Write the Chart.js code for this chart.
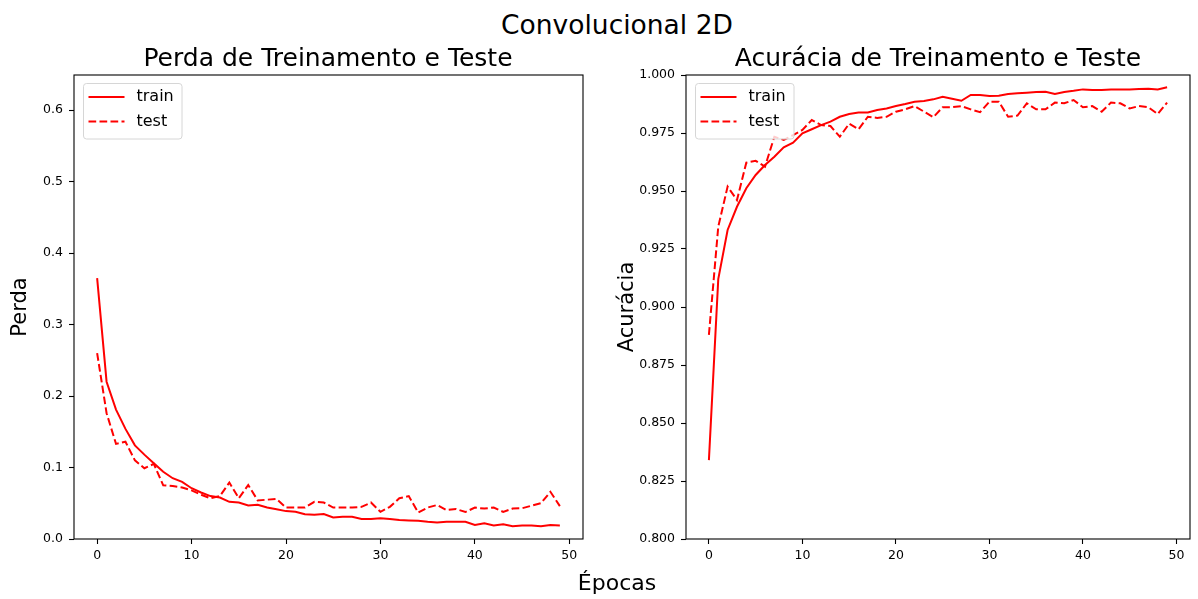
<!DOCTYPE html>
<html>
<head>
<meta charset="utf-8">
<script src="https://cdn.jsdelivr.net/npm/chart.js@4.4.1/dist/chart.umd.min.js"></script>
<style>
  body { margin: 0; background: #fff; }
  #wrap { position: relative; width: 1198px; height: 599px; overflow: hidden; font-family: 'DejaVu Sans', sans-serif; }
  #lossBox { position: absolute; left: 0; top: 0; width: 600px; height: 599px; }
  #accBox { position: absolute; left: 600px; top: 0; width: 598px; height: 599px; }
  .txt { position: absolute; color: #000; white-space: nowrap; line-height: 1; transform: translateX(-50%); }
  #suptitle { left: 617px; top: 12px; font-size: 26.5px; }
  .subtitle { top: 45px; font-size: 25px; }
  #lossTitle { left: 328px; }
  #accTitle { left: 938px; }
  #xlabel { left: 617px; top: 572px; font-size: 22px; }
</style>
</head>
<body>
<div id="wrap">
  <div id="suptitle" class="txt">Convolucional 2D</div>
  <div id="lossBox"><canvas id="lossChart"></canvas></div>
  <div id="accBox"><canvas id="accChart"></canvas></div>
  <div id="lossTitle" class="txt subtitle">Perda de Treinamento e Teste</div>
  <div id="accTitle" class="txt subtitle">Acurácia de Treinamento e Teste</div>
  <div id="xlabel" class="txt">Épocas</div>
</div>
<script>
// epochs 0..49
const epochs = Array.from({ length: 50 }, (_, i) => i);

const lossTrain = [0.365, 0.220, 0.181, 0.154, 0.131, 0.118, 0.106, 0.094, 0.085, 0.080,
                   0.071, 0.065, 0.060, 0.058, 0.052, 0.051, 0.047, 0.048, 0.044, 0.0415,
                   0.039, 0.038, 0.0345, 0.034, 0.035, 0.030, 0.031, 0.031, 0.028, 0.028,
                   0.029, 0.028, 0.0266, 0.026, 0.0255, 0.024, 0.023, 0.024, 0.024, 0.024,
                   0.0196, 0.022, 0.019, 0.0205, 0.018, 0.019, 0.019, 0.018, 0.0195, 0.019];
const lossTest = [0.260, 0.176, 0.133, 0.136, 0.110, 0.099, 0.105, 0.075, 0.074, 0.072,
                  0.068, 0.062, 0.057, 0.060, 0.079, 0.057, 0.0755, 0.054, 0.055, 0.056,
                  0.044, 0.044, 0.044, 0.052, 0.051, 0.044, 0.044, 0.044, 0.045, 0.051,
                  0.038, 0.045, 0.057, 0.060, 0.037, 0.044, 0.0475, 0.0405, 0.042, 0.0377,
                  0.044, 0.0425, 0.044, 0.038, 0.0425, 0.043, 0.0466, 0.050, 0.066, 0.046];
const accTrain = [0.834, 0.912, 0.9332, 0.9432, 0.9512, 0.9569, 0.9612, 0.9648, 0.9688, 0.9708,
                  0.9749, 0.9766, 0.9784, 0.9799, 0.9820, 0.9832, 0.9838, 0.9838, 0.9849, 0.9856,
                  0.9866, 0.9875, 0.9885, 0.9888, 0.9895, 0.9906, 0.9898, 0.9889, 0.9914, 0.9914,
                  0.9910, 0.9911, 0.9918, 0.9921, 0.9924, 0.9927, 0.9928, 0.9918, 0.9927, 0.9932,
                  0.9938, 0.9935, 0.9935, 0.9937, 0.9937, 0.9938, 0.9940, 0.9941, 0.9938, 0.9947];
const accTest = [0.888, 0.9346, 0.9519, 0.9461, 0.9622, 0.9630, 0.9605, 0.9734, 0.9720, 0.9741,
                 0.9763, 0.9806, 0.9784, 0.9780, 0.9734, 0.9790, 0.9766, 0.9820, 0.9815, 0.9820,
                 0.9842, 0.9852, 0.9866, 0.9842, 0.9818, 0.9861, 0.9861, 0.9866, 0.9852, 0.9840,
                 0.9885, 0.9885, 0.9820, 0.9825, 0.9878, 0.9852, 0.9852, 0.9881, 0.9878, 0.9892,
                 0.9861, 0.9866, 0.9842, 0.9881, 0.9878, 0.9856, 0.9866, 0.9861, 0.9832, 0.9881];

const xTicks = [0, 10, 20, 30, 40, 50];
const lossTicks = [0.0, 0.1, 0.2, 0.3, 0.4, 0.5, 0.6];
const accTicks = [0.800, 0.825, 0.850, 0.875, 0.900, 0.925, 0.950, 0.975, 1.000];

const seriesNames = ['train', 'test'];
const red = '#ff0000';
const dash = [7.7, 3.3];

Chart.defaults.font.family = "'DejaVu Sans', sans-serif";
Chart.defaults.color = '#000';

function points(values) {
    return values.map((v, i) => ({ x: epochs[i], y: v }));
}

// frame on all four sides + matplotlib-like legend in upper left
const frameLegend = {
    id: 'frameLegend',
    afterDraw(chart) {
        const ctx = chart.ctx;
        const a = chart.chartArea;
        ctx.save();
        ctx.strokeStyle = '#000';
        ctx.lineWidth = 1.1;
        ctx.setLineDash([]);
        ctx.strokeRect(a.left, a.top, a.right - a.left, a.bottom - a.top);

        const x = a.left + 9.5, y = a.top + 8.5, w = 98.5, h = 55.5;
        ctx.beginPath();
        ctx.roundRect(x, y, w, h, 3);
        ctx.fillStyle = 'rgba(255,255,255,0.8)';
        ctx.fill();
        ctx.strokeStyle = '#d6d6d6';
        ctx.lineWidth = 1;
        ctx.stroke();

        ctx.font = "16px 'DejaVu Sans'";
        ctx.textBaseline = 'middle';
        chart.data.datasets.forEach((ds, i) => {
            const ly = y + 13.5 + i * 24.5;
            ctx.beginPath();
            ctx.setLineDash(ds.borderDash || []);
            ctx.strokeStyle = ds.borderColor;
            ctx.lineWidth = 2;
            ctx.moveTo(x + 5, ly);
            ctx.lineTo(x + 41, ly);
            ctx.stroke();
            ctx.setLineDash([]);
            ctx.fillStyle = '#000';
            ctx.fillText(ds.label, x + 53, ly);
        });
        ctx.restore();
    }
};

function makeChart(id, train, test, opts) {
    return new Chart(document.getElementById(id), {
        type: 'line',
        data: {
            datasets: [
                { label: seriesNames[0], data: points(train), borderColor: red, borderWidth: 2,
                  pointRadius: 0, tension: 0, fill: false },
                { label: seriesNames[1], data: points(test), borderColor: red, borderWidth: 2,
                  borderDash: dash, pointRadius: 0, tension: 0, fill: false }
            ]
        },
        options: {
            responsive: true,
            maintainAspectRatio: false,
            animation: false,
            layout: { padding: { top: 75, right: opts.padRight, bottom: 20, left: 0 } },
            plugins: {
                legend: { display: false },
                tooltip: { enabled: false },
                title: { display: false }
            },
            scales: {
                x: {
                    type: 'linear',
                    min: -2.45,
                    max: 51.45,
                    afterBuildTicks: (s) => { s.ticks = xTicks.map(v => ({ value: v })); },
                    afterFit: (s) => { s.height = 40; },
                    border: { display: false },
                    grid: { display: true, drawOnChartArea: false, drawTicks: true, tickLength: 5, color: '#000', tickWidth: 1.1 },
                    ticks: { font: { size: 12.5 }, padding: 4, maxRotation: 0 }
                },
                y: {
                    min: opts.ymin,
                    max: opts.ymax,
                    afterBuildTicks: (s) => { s.ticks = opts.yTicks.map(v => ({ value: v })); },
                    afterFit: (s) => { s.width = opts.yWidth; },
                    border: { display: false },
                    grid: { display: true, drawOnChartArea: false, drawTicks: true, tickLength: 5, color: '#000', tickWidth: 1.1 },
                    ticks: { font: { size: 12.5 }, padding: 6, callback: (v) => v.toFixed(opts.decimals) },
                    title: {
                        display: true,
                        text: opts.ylabel,
                        color: '#000',
                        font: { size: 21 },
                        padding: { top: opts.ytitlePad, bottom: 0 }
                    }
                }
            }
        },
        plugins: [frameLegend]
    });
}

makeChart('lossChart', lossTrain, lossTest, {
    ylabel: 'Perda',
    ymin: 0, ymax: 0.649, yTicks: lossTicks, decimals: 1,
    yWidth: 74, padRight: 17, ytitlePad: 8
});

makeChart('accChart', accTrain, accTest, {
    ylabel: 'Acurácia',
    ymin: 0.8, ymax: 1.0, yTicks: accTicks, decimals: 3,
    yWidth: 86, padRight: 8, ytitlePad: 15
});
</script>
</body>
</html>
